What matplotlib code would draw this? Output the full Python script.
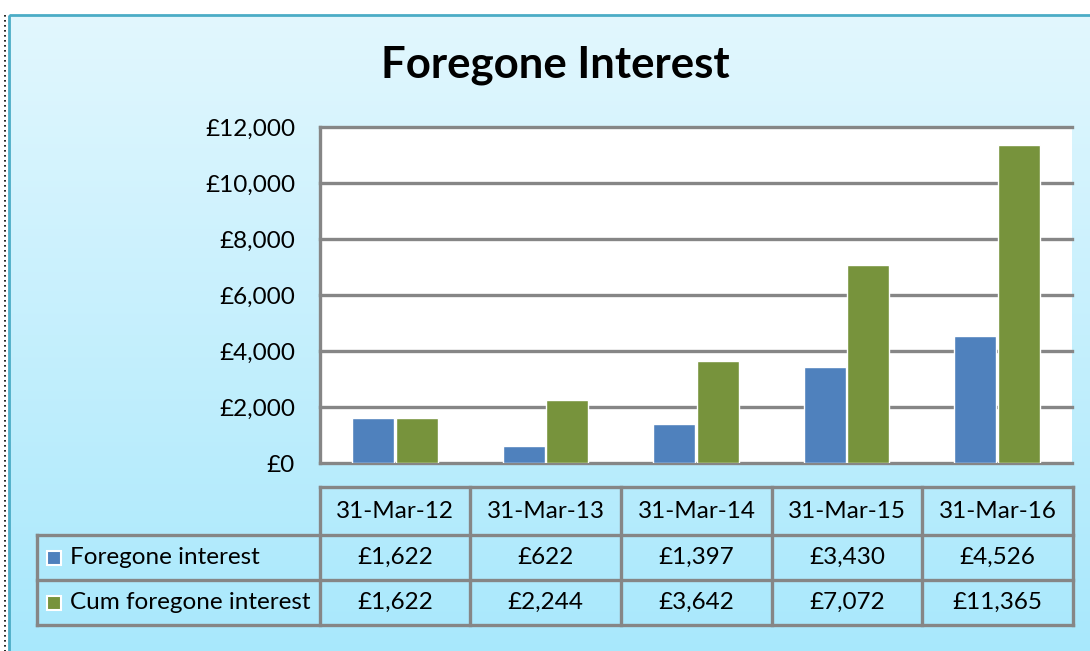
import numpy as np
import matplotlib
matplotlib.use("Agg")
import matplotlib.pyplot as plt
from matplotlib.patches import Rectangle
from matplotlib.lines import Line2D

# ---- data ----
categories = ["31-Mar-12", "31-Mar-13", "31-Mar-14", "31-Mar-15", "31-Mar-16"]
foregone = [1622, 622, 1397, 3430, 4526]
cum_foregone = [1622, 2244, 3642, 7072, 11365]
series_names = ["Foregone interest", "Cum foregone interest"]
yticks = [0, 2000, 4000, 6000, 8000, 10000, 12000]
title = "Foregone Interest"

W, H = 1090, 651
DPI = 100
FONT = "Lato"
BLUE = "#4f81bd"
GREEN = "#77933c"
GRID = "#868686"

fig = plt.figure(figsize=(W / DPI, H / DPI), dpi=DPI)
fig.patch.set_facecolor("white")

# overlay axes in pixel coordinates
ov = fig.add_axes([0, 0, 1, 1], zorder=0)
ov.set_xlim(0, W)
ov.set_ylim(H, 0)
ov.axis("off")

# gradient background
grad = np.linspace(0, 1, 256).reshape(-1, 1)
c_top = np.array(matplotlib.colors.to_rgb("#e2f7fe"))
c_bot = np.array(matplotlib.colors.to_rgb("#a8e8fc"))
img = c_top[None, None, :] * (1 - grad[..., None]) + c_bot[None, None, :] * grad[..., None]
ov.imshow(img, extent=[9, W + 5, H + 5, 15], aspect="auto", zorder=0)
ov.add_patch(Rectangle((9, 15), W, H, fill=False, edgecolor="#4bacc6", lw=2.0, zorder=1))
ov.add_line(Line2D([5, 5], [15, H], color="black", lw=1.2, ls=(0, (1, 2)), zorder=1))
ov.set_xlim(0, W)
ov.set_ylim(H, 0)

# title
ov.text(555, 65, title, ha="center", va="center", fontsize=31.5, fontweight="bold",
        family=FONT, color="black", zorder=3)

# ---- main bar axes ----
L, R, T, B = 320, 1072, 127, 463
ax = fig.add_axes([L / W, 1 - B / H, (R - L) / W, (B - T) / H], zorder=2)
ax.set_facecolor("white")
x = np.arange(len(categories))
bw = 0.28
off = 0.145
ax.bar(x - off, foregone, bw, color=BLUE, edgecolor="white", lw=1.0, zorder=3)
ax.bar(x + off, cum_foregone, bw, color=GREEN, edgecolor="white", lw=1.0, zorder=3)
ax.set_xlim(-0.5, len(categories) - 0.5)
ax.set_ylim(0, 12000)
ax.set_yticks(yticks)
ax.set_yticklabels([f"£{v:,}" for v in yticks], family=FONT, fontsize=17.5)
ax.tick_params(axis="y", length=0, pad=18)
ax.set_xticks([])
for v in yticks:
    ax.axhline(v, color=GRID, lw=2.4, zorder=2, clip_on=False)
for s in ["top", "right", "bottom"]:
    ax.spines[s].set_visible(False)
ax.spines["left"].set_color(GRID)
ax.spines["left"].set_linewidth(2.4)

# ---- data table ----
cols = [320, 470, 621, 772, 922, 1073]
hdr_top, r1, r2, r3 = 487, 535, 580, 625
tleft = 37
lw = 2.4
ov.plot([cols[0], cols[-1]], [hdr_top, hdr_top], color=GRID, lw=lw, zorder=3, solid_capstyle="projecting")
for yy in [r1, r2, r3]:
    ov.plot([tleft, cols[-1]], [yy, yy], color=GRID, lw=lw, zorder=3, solid_capstyle="projecting")
for cx in cols:
    ov.plot([cx, cx], [hdr_top, r3], color=GRID, lw=lw, zorder=3, solid_capstyle="projecting")
ov.plot([tleft, tleft], [r1, r3], color=GRID, lw=lw, zorder=3, solid_capstyle="projecting")

fs = 17.5
for i, c in enumerate(categories):
    cx = (cols[i] + cols[i + 1]) / 2
    ov.text(cx, (hdr_top + r1) / 2, c, ha="center", va="center", fontsize=fs, family=FONT, zorder=4)
    ov.text(cx, (r1 + r2) / 2, f"£{foregone[i]:,}", ha="center", va="center", fontsize=fs, family=FONT, zorder=4)
    ov.text(cx, (r2 + r3) / 2, f"£{cum_foregone[i]:,}", ha="center", va="center", fontsize=fs, family=FONT, zorder=4)

for (ya, yb), name, col in [((r1, r2), series_names[0], BLUE), ((r2, r3), series_names[1], GREEN)]:
    yc = (ya + yb) / 2
    ov.add_patch(Rectangle((47, yc - 7), 14, 14, facecolor=col, edgecolor="white", lw=1.5, zorder=4))
    ov.text(70, yc, name, ha="left", va="center", fontsize=fs, family=FONT, zorder=4)

fig.savefig("out.png", dpi=DPI)
